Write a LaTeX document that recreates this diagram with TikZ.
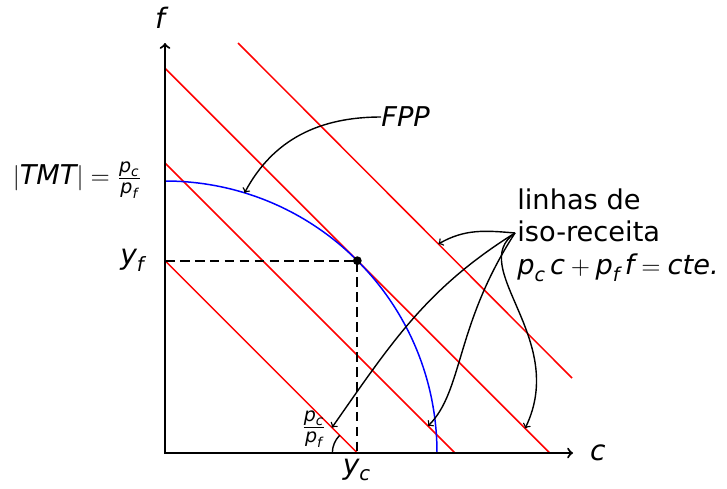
\documentclass[tikz,border=0pt]{standalone}
\usepackage{amsmath}
\usepackage{fontspec}
\setmainfont{DejaVu Sans}
\usetikzlibrary{calc}
\newcommand{\mv}[1]{\textit{#1}}
\begin{document}
\begin{tikzpicture}[x=0.02cm,y=0.02cm,
  axis/.style={line width=1.2pt,<->},
  isoline/.style={red,line width=0.85pt},
  fpp/.style={blue,line width=0.85pt},
  pointer/.style={->,line width=0.8pt},
  guide/.style={line width=1pt,dash pattern=on 5.5pt off 3pt},
  biglabel/.style={font=\fontsize{16}{19}\selectfont},
  smalllabel/.style={font=\fontsize{15.5}{18.7}\selectfont}]
\useasboundingbox (0,0) rectangle (727,488);
\coordinate (O) at (165,35);
\coordinate (ytop) at (165,445);
\coordinate (xend) at (573,35);
\coordinate (P) at ($(O)+(45:272)$);
\coordinate (yf) at (O |- P);
\coordinate (yc) at (O -| P);
\coordinate (fppend) at ($(O)+(73:272)$);
\coordinate (src) at (515,255);
% iso-receita lines
\draw[isoline] (238,445) -- (572,110) coordinate[pos=0.6] (t1);
\draw[isoline] (165,419.7) -- (549.7,35) coordinate[pos=0.936] (t4);
\draw[isoline] (165,325) -- (455,35) coordinate[pos=0.907] (t3);
\draw[isoline] (yf) -- (yc) coordinate[pos=0.868] (t2);
% frontier
\draw[fpp] ($(O)+(0,272)$) arc[start angle=90,end angle=0,radius=272];
\draw[axis] (ytop) -- (O) -- (xend);
\draw[guide] (yf) -- (P) -- (yc);
\fill (P) circle (2.5pt);
\draw[line width=0.8pt] ($(yc)+(-25,0)$) arc[start angle=180,end angle=135,radius=25];
% labels
\node[biglabel] (flab) at (160,470) {$\mv{f}$};
\node[biglabel,anchor=west] (clab) at (584,35) {$\mv{c}$};
\node[biglabel] (yclab) at (357,18) {$\mv{y}_{\mv{c}}$};
\node[biglabel,anchor=east] (yflab) at (151,228) {$\mv{y}_{\mv{f}}$};
\node[smalllabel,anchor=east,inner sep=0] (tmt) at (142,308) {$|\mv{TMT}|=\frac{\mv{p}_{\mv{c}}}{\mv{p}_{\mv{f}}}$};
\node[smalllabel] (angfrac) at (314,59) {$\frac{\mv{p}_{\mv{c}}}{\mv{p}_{\mv{f}}}$};
\node[smalllabel,anchor=west,inner sep=0] (fpplab) at (381,371) {\mv{FPP}};
\node[smalllabel,align=left,anchor=west,inner sep=0] (iso) at (517,253) {linhas de\\iso-receita\\$\mv{p}_{\mv{c}}\,\mv{c}+\mv{p}_{\mv{f}}\,\mv{f}=\mv{cte.}$};
% pointers
\draw[pointer] (fpplab.west) to[out=180,in=62] (fppend);
\draw[pointer] (src) to[out=175,in=30] (t1);
\draw[pointer] (src) to[out=212,in=55] (t2);
\draw[pointer] (src) .. controls +(237:110) and +(45:50) .. (t3);
\draw[pointer] (src) .. controls +(215:60) and +(64:100) .. (t4);
\end{tikzpicture}
\end{document}
